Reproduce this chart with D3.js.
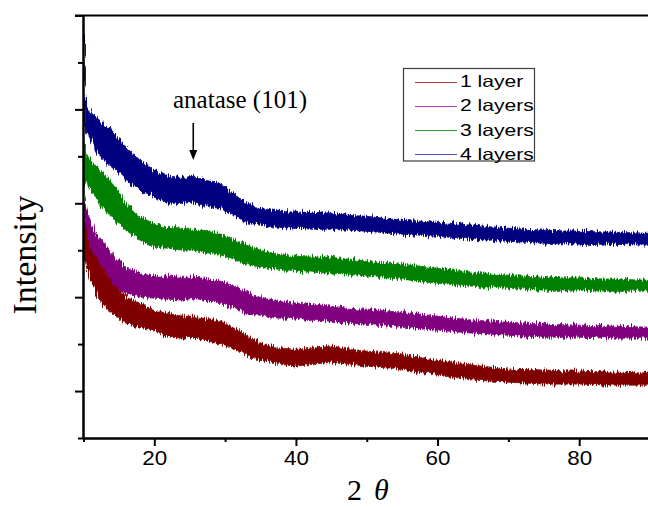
<!DOCTYPE html>
<html><head><meta charset="utf-8">
<script src="https://cdn.jsdelivr.net/npm/d3@7"></script>
<style>body{margin:0;background:#fff}svg{display:block}</style>
</head><body>
<script>
// 2θ sample positions (degrees)
const twoTheta = [10,10.2,10.5,11,12,13,14,15,16,18,20,22,24,25.5,27,29,31,33,35,37.5,40,42.5,45,47.5,50,55,60,65,70,75,80,85,90];
// Upper / lower envelope of each noisy trace (a.u.)
const layer1Hi = [2798,2734,2659,2500,2393,2265,2148,2074,2000,1936,1861,1829,1797,1797,1776,1755,1680,1595,1510,1457,1446,1457,1478,1446,1425,1393,1329,1276,1234,1223,1212,1202,1191];
const layer1Lo = [2446,2393,2308,2180,2000,1904,1829,1776,1723,1680,1648,1574,1563,1574,1542,1510,1457,1382,1329,1287,1265,1287,1308,1287,1265,1234,1170,1117,1095,1074,1074,1063,1063];
const layer2Hi = [3085,3032,2925,2798,2638,2553,2468,2393,2319,2255,2223,2223,2212,2212,2202,2180,2127,2053,2000,1957,1936,1925,1904,1882,1872,1840,1797,1755,1734,1712,1702,1691,1680];
const layer2Lo = [2712,2638,2553,2446,2255,2180,2106,2063,2042,2000,1989,1978,1968,1989,1968,1946,1893,1819,1808,1776,1776,1755,1744,1723,1712,1680,1648,1616,1595,1574,1574,1563,1563];
const layer3Hi = [3617,3564,3511,3457,3383,3298,3212,3106,3000,2851,2787,2744,2734,2712,2712,2680,2627,2553,2500,2457,2436,2425,2425,2404,2382,2351,2308,2265,2234,2212,2202,2191,2180];
const layer3Lo = [3298,3245,3191,3138,3032,2925,2851,2776,2712,2606,2531,2521,2500,2500,2478,2457,2414,2351,2319,2297,2276,2265,2255,2244,2223,2191,2148,2117,2095,2074,2074,2063,2063];
const layer4Hi = [4808,4117,4042,3968,3904,3830,3777,3691,3596,3457,3351,3287,3276,3287,3245,3223,3117,3000,2947,2915,2904,2904,2893,2872,2861,2819,2798,2766,2734,2712,2702,2691,2680];
const layer4Lo = [3830,3798,3745,3670,3532,3457,3383,3319,3245,3138,3064,3000,3000,3010,2978,2947,2883,2798,2766,2744,2734,2723,2723,2712,2702,2670,2648,2617,2595,2574,2563,2563,2553];
const seriesNames = ["1 layer","2 layers","3 layers","4 layers"];
const seriesColors = ["#800000","#800080","#008000","#000080"];
const legendColors = ["#b04040","#b040b8","#30a030","#5050c0"];
const xMajorTicks = [20,40,60,80];
const xMinorTicks = [10,30,50,70];
const yMajorTicks = [1000,2000,3000,4000,5000];
const yMinorTicks = [500,1500,2500,3500,4500];

const W = 648, H = 507;
const svg = d3.select("body").append("svg").attr("width", W).attr("height", H);
const x = d3.scaleLinear().domain([10, 90]).range([83.5, 650]);
const y = d3.scaleLinear().domain([500, 5000]).range([438, 15.5]);

const defs = svg.append("defs");
defs.append("clipPath").attr("id","clip")
  .append("rect").attr("x", 83).attr("y", 15).attr("width", 570).attr("height", 423);
// rendering texture that roughens the band edges like a noisy scan trace
const f = defs.append("filter").attr("id","rough").attr("x","-2%").attr("y","-10%").attr("width","104%").attr("height","120%");
f.append("feTurbulence").attr("type","fractalNoise").attr("baseFrequency","0.9 0.06").attr("numOctaves",2).attr("seed",3).attr("result","n");
f.append("feDisplacementMap").attr("in","SourceGraphic").attr("in2","n").attr("scale",9)
  .attr("xChannelSelector","A").attr("yChannelSelector","R");

const his = [layer1Hi, layer2Hi, layer3Hi, layer4Hi];
const los = [layer1Lo, layer2Lo, layer3Lo, layer4Lo];
const area = d3.area().x(d => x(d.t)).y0(d => y(d.lo)).y1(d => y(d.hi));
const g = svg.append("g").attr("clip-path", "url(#clip)").append("g").attr("filter", "url(#rough)");
for (let s = 3; s >= 0; s--) {
  const pts = twoTheta.map((t, i) => ({t, hi: his[s][i], lo: los[s][i]}));
  g.append("path").datum(pts).attr("d", area)
    .attr("fill", seriesColors[s]).attr("stroke", seriesColors[s])
    .attr("stroke-width", 0.8).attr("stroke-linejoin", "round");
}

// axes
const font = "'Liberation Sans', Arial, sans-serif";
const xAxis = svg.append("g").attr("transform", "translate(0,438)")
  .call(d3.axisBottom(x).tickValues(xMajorTicks).tickSize(8).tickSizeOuter(0).tickPadding(5).tickFormat(d3.format("d")));
svg.append("g").attr("transform", "translate(0,438)")
  .call(d3.axisBottom(x).tickValues(xMinorTicks).tickSize(4).tickSizeOuter(0).tickFormat(""));
svg.append("g").attr("transform", "translate(83,0)")
  .call(d3.axisLeft(y).tickValues(yMajorTicks).tickSize(8).tickSizeOuter(0).tickFormat(""));
svg.append("g").attr("transform", "translate(83,0)")
  .call(d3.axisLeft(y).tickValues(yMinorTicks).tickSize(5).tickSizeOuter(0).tickFormat(""));
svg.selectAll(".domain").attr("stroke", "#000").attr("stroke-width", 2);
svg.selectAll(".tick line").attr("stroke", "#000").attr("stroke-width", 2);
xAxis.selectAll(".tick text").attr("font-family", font).attr("font-size", 20).attr("fill", "#000")
  .attr("transform", "scale(1.12,1)");
// top frame
svg.append("line").attr("x1", 75).attr("x2", W).attr("y1", y(5000)).attr("y2", y(5000))
  .attr("stroke", "#000").attr("stroke-width", 2);

// axis titles
svg.append("text").attr("x", 347).attr("y", 500).attr("font-family", "'Liberation Serif','Times New Roman',serif")
  .attr("font-size", 30).attr("fill", "#000")
  .call(t => { t.append("tspan").text("2"); t.append("tspan").attr("x", 374).attr("font-style", "italic").text("θ"); });
svg.append("text").attr("transform", "translate(36,255) rotate(-90)").attr("text-anchor", "middle")
  .attr("font-family", "'Liberation Serif','Times New Roman',serif").attr("font-size", 34).attr("fill", "#000")
  .text("Intensity");

// annotation
svg.append("text").attr("x", 173).attr("y", 108).attr("font-family", "'Liberation Serif','Times New Roman',serif")
  .attr("font-size", 25).attr("fill", "#000").text("anatase (101)");
const ax = x(25.5);
svg.append("line").attr("x1", ax).attr("x2", ax).attr("y1", 123).attr("y2", 152).attr("stroke", "#000").attr("stroke-width", 1.6);
svg.append("path").attr("d", `M${ax-4},150 L${ax+4},150 L${ax},160 Z`).attr("fill", "#000");

// legend
const lg = svg.append("g");
lg.append("rect").attr("x", 403.5).attr("y", 68.5).attr("width", 131).attr("height", 92.5)
  .attr("fill", "#fff").attr("stroke", "#404040").attr("stroke-width", 1.2);
seriesNames.forEach((n, i) => {
  const yy = 87 + i * 24.3;
  const ly = Math.round(yy - 5.5) + 0.5;
  lg.append("line").attr("x1", 415).attr("x2", 457).attr("y1", ly).attr("y2", ly)
    .attr("stroke", legendColors[i]).attr("stroke-width", 1);
  lg.append("text").attr("transform", `translate(460,${yy}) scale(1.28,1)`).attr("font-family", font).attr("font-size", 16.5)
    .attr("fill", "#000").text(n);
});
</script>
</body></html>
